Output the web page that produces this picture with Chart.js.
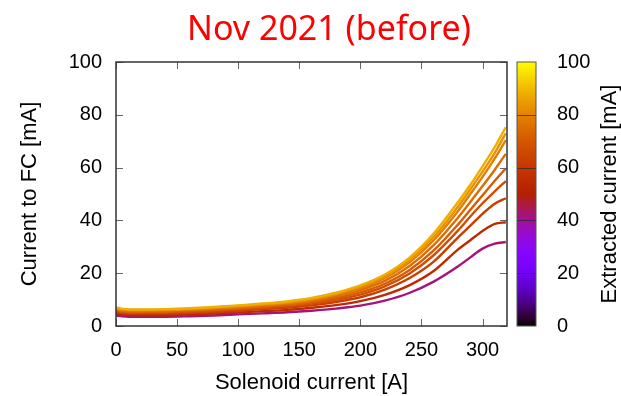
<!DOCTYPE html>
<html>
<head>
<meta charset="utf-8">
<script src="https://cdn.jsdelivr.net/npm/chart.js@4.4.1/dist/chart.umd.min.js"></script>
<style>
  html, body { margin: 0; padding: 0; background: #fff; }
  #wrap { width: 621px; height: 396px; }
</style>
</head>
<body>
<div id="wrap"><canvas id="fc-chart" width="621" height="396"></canvas></div>
<script>
// Solenoid current [A] sample points (x axis)
const solenoidA = [0, 5, 20, 40, 60, 80, 100, 120, 140, 160, 180, 200, 220, 240, 260, 280, 290, 300, 310, 319];

// Extracted current [mA] for each curve (sets the colour)
const extractedMA = [42, 55, 62, 67, 71, 75, 79, 83, 88];

// Current to FC [mA], one list per extracted current
const fc42 = [4.0, 3.7, 3.5, 3.5, 3.7, 4.0, 4.4, 4.8, 5.2, 5.8, 6.6, 7.7, 9.6, 12.5, 16.8, 22.6, 26.0, 29.3, 31.2, 31.8];
const fc55 = [4.7, 4.3, 4.1, 4.1, 4.4, 4.7, 5.1, 5.6, 6.1, 6.9, 7.9, 9.4, 11.8, 15.4, 20.8, 29.0, 32.5, 36.0, 38.7, 39.3];
const fc62 = [5.3, 4.9, 4.7, 4.7, 5.0, 5.3, 5.8, 6.4, 6.9, 7.8, 9.1, 10.9, 13.8, 18.1, 24.4, 33.6, 38.0, 42.5, 46.3, 48.4];
const fc67 = [5.7, 5.2, 5.0, 5.1, 5.4, 5.8, 6.3, 6.8, 7.5, 8.4, 9.9, 11.9, 15.0, 19.8, 26.8, 36.2, 41.5, 46.5, 51.0, 54.9];
const fc71 = [6.0, 5.5, 5.3, 5.4, 5.7, 6.1, 6.6, 7.2, 7.9, 8.9, 10.5, 12.7, 16.0, 21.1, 28.6, 38.5, 44.0, 49.5, 55.0, 59.7];
const fc75 = [6.3, 5.8, 5.6, 5.7, 6.0, 6.4, 7.0, 7.6, 8.3, 9.4, 11.2, 13.6, 17.1, 22.6, 30.6, 41.1, 47.0, 53.0, 59.2, 65.2];
const fc79 = [6.6, 6.1, 5.9, 6.0, 6.3, 6.8, 7.3, 8.0, 8.7, 9.9, 11.8, 14.3, 18.1, 24.0, 32.5, 43.6, 50.0, 56.5, 63.5, 70.4];
const fc83 = [6.8, 6.3, 6.1, 6.2, 6.5, 7.0, 7.6, 8.2, 9.0, 10.3, 12.2, 14.9, 18.8, 24.9, 33.7, 45.3, 51.8, 58.5, 65.6, 73.0];
const fc88 = [7.0, 6.5, 6.3, 6.4, 6.7, 7.2, 7.8, 8.5, 9.3, 10.6, 12.6, 15.4, 19.5, 25.8, 35.0, 47.0, 53.5, 60.5, 67.8, 75.3];
const fcSeries = [fc42, fc55, fc62, fc67, fc71, fc75, fc79, fc83, fc88];

// tick labels
const xTicks = [0, 50, 100, 150, 200, 250, 300];
const yTicks = [0, 20, 40, 60, 80, 100];
const cbTicks = [0, 20, 40, 60, 80, 100];

const AXIS_FONT = "'Liberation Sans', Arial, sans-serif";

// gnuplot default palette (rgbformulae 7,5,15)
function palette(t) {
  const r = Math.sqrt(t);
  const g = t * t * t;
  const b = Math.max(0, Math.sin(2 * Math.PI * t));
  return `rgb(${Math.round(r * 255)},${Math.round(g * 255)},${Math.round(b * 255)})`;
}

const datasets = fcSeries.map((vals, i) => ({
  label: extractedMA[i] + " mA",
  data: vals.map((v, j) => ({ x: solenoidA[j], y: v })),
  borderColor: palette(extractedMA[i] / 100),
  borderWidth: 2.4,
  pointRadius: 0,
  fill: false,
  cubicInterpolationMode: "monotone",
  order: fcSeries.length - i // higher current drawn on top
}));

// title, frame, inward mirrored ticks and the colour box
const framePlugin = {
  id: "frame",
  afterDraw(chart) {
    const { ctx, chartArea: a, scales } = chart;
    const seg = (x1, y1, x2, y2) => { ctx.beginPath(); ctx.moveTo(x1, y1); ctx.lineTo(x2, y2); ctx.stroke(); };
    ctx.save();

    // red title (sits a bit right of centre in the original)
    ctx.fillStyle = "#ff0000";
    ctx.font = "34px 'Noto Sans', 'Open Sans', sans-serif";
    ctx.textAlign = "center";
    ctx.textBaseline = "alphabetic";
    ctx.fillText("Nov 2021 (before)", 329, 40);

    ctx.strokeStyle = "#666";
    ctx.lineWidth = 1;
    const tl = 7;
    xTicks.forEach(v => {
      const px = Math.round(scales.x.getPixelForValue(v)) + 0.5;
      seg(px, a.bottom, px, a.bottom - tl);
      seg(px, a.top, px, a.top + tl);
    });
    yTicks.forEach(v => {
      const py = Math.round(scales.y.getPixelForValue(v)) + 0.5;
      seg(a.left, py, a.left + tl, py);
      seg(a.right, py, a.right - tl, py);
    });
    ctx.strokeStyle = "#333";
    ctx.lineWidth = 1.5;
    ctx.strokeRect(a.left, a.top, a.right - a.left, a.bottom - a.top);

    // colorbar
    const cb = scales.cb;
    const x0 = a.right + 10, w = 19;
    const top = cb.getPixelForValue(100), bot = cb.getPixelForValue(0);
    const grad = ctx.createLinearGradient(0, bot, 0, top);
    for (let k = 0; k <= 50; k++) grad.addColorStop(k / 50, palette(k / 50));
    ctx.fillStyle = grad;
    ctx.fillRect(x0, top, w, bot - top);
    ctx.strokeStyle = "rgba(40,40,40,0.7)";
    ctx.lineWidth = 1;
    cbTicks.forEach(v => {
      if (v === 0 || v === 100) return;
      const py = Math.round(cb.getPixelForValue(v)) + 0.5;
      seg(x0, py, x0 + w, py);
    });
    ctx.strokeStyle = "#555";
    ctx.strokeRect(x0, top, w, bot - top);

    // colorbar title, reading bottom to top
    ctx.translate(610, (a.top + a.bottom) / 2);
    ctx.rotate(-Math.PI / 2);
    ctx.fillStyle = "#000";
    ctx.font = "22px " + AXIS_FONT;
    ctx.textBaseline = "middle";
    ctx.fillText("Extracted current [mA]", 0, 0);
    ctx.restore();
  }
};

new Chart(document.getElementById("fc-chart"), {
  type: "line",
  data: { datasets: datasets },
  options: {
    responsive: false,
    animation: false,
    layout: { padding: { top: 62 } },
    plugins: {
      legend: { display: false },
      tooltip: { enabled: false },
      title: { display: false }
    },
    scales: {
      x: {
        type: "linear",
        min: 0, max: 320,
        afterBuildTicks: s => { s.ticks = xTicks.map(v => ({ value: v })); },
        afterFit: s => { s.height = 70; },
        grid: { display: false, drawTicks: false },
        border: { display: false },
        ticks: { color: "#000", padding: 12, maxRotation: 0, font: { family: AXIS_FONT, size: 20 } },
        title: { display: true, text: "Solenoid current [A]", color: "#000", padding: 0, font: { family: AXIS_FONT, size: 22 } }
      },
      y: {
        position: "left",
        min: 0, max: 100,
        afterBuildTicks: s => { s.ticks = yTicks.map(v => ({ value: v })); },
        afterFit: s => { s.width = 116; },
        grid: { display: false, drawTicks: false },
        border: { display: false },
        ticks: { color: "#000", padding: 14, font: { family: AXIS_FONT, size: 20 } },
        title: { display: true, text: "Current to FC [mA]", color: "#000", padding: { top: 17, bottom: 0 }, font: { family: AXIS_FONT, size: 22 } }
      },
      cb: {
        position: "right",
        min: 0, max: 100,
        afterBuildTicks: s => { s.ticks = cbTicks.map(v => ({ value: v })); },
        afterFit: s => { s.width = 114; },
        grid: { display: false, drawTicks: false },
        border: { display: false },
        ticks: { color: "#000", padding: 50, font: { family: AXIS_FONT, size: 20 } },
        title: { display: false }
      }
    }
  },
  plugins: [framePlugin]
});
</script>
</body>
</html>
